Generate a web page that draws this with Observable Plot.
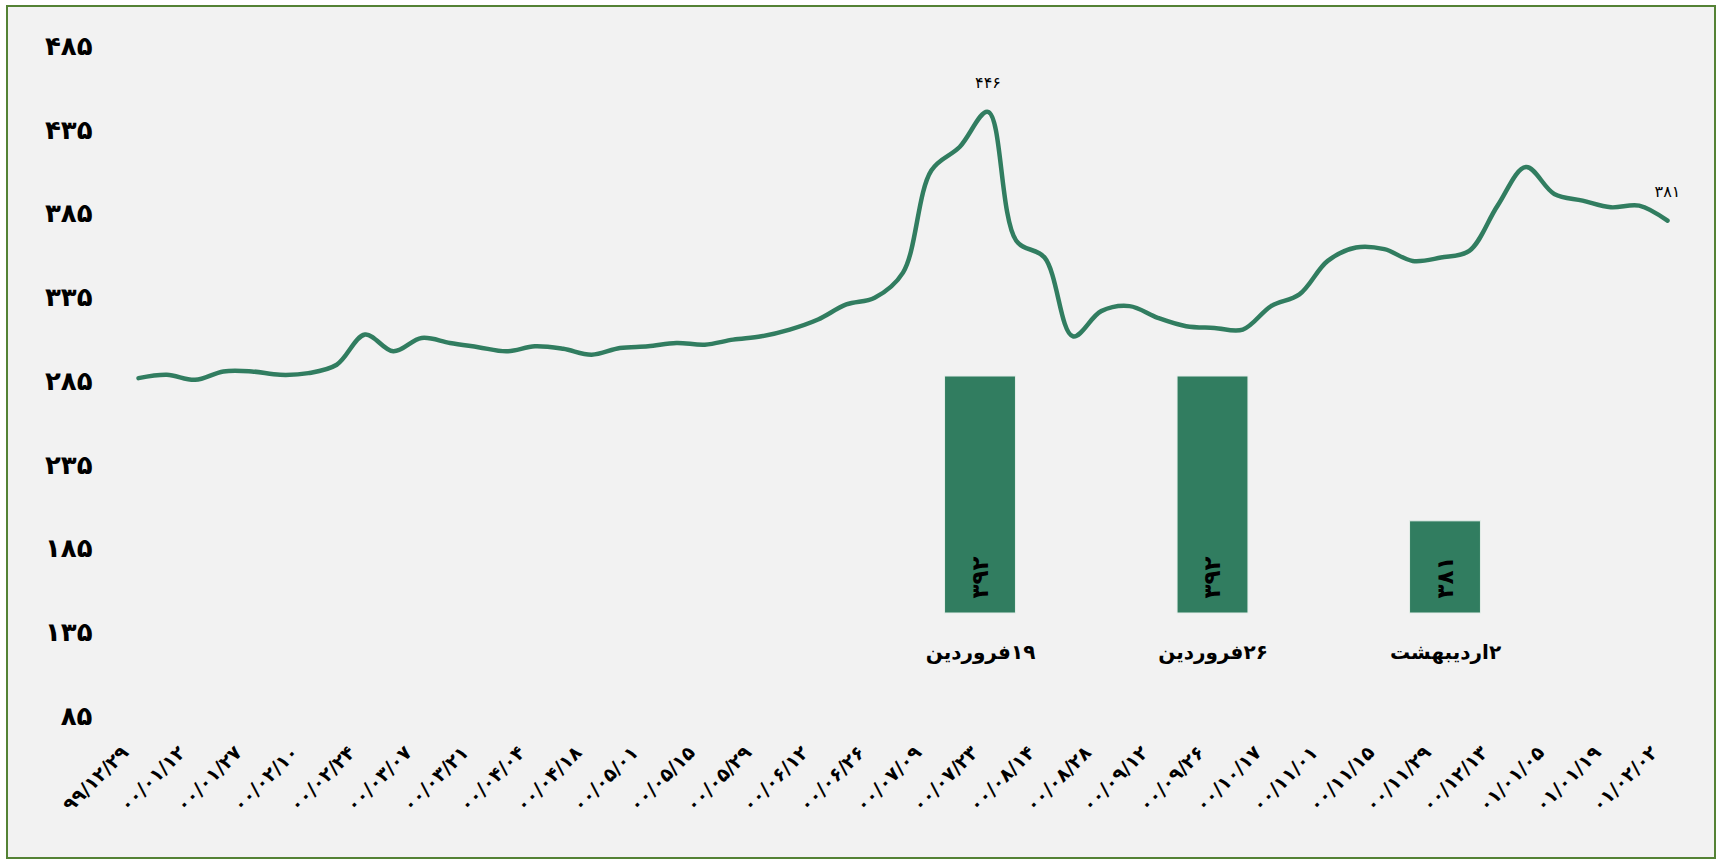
<!DOCTYPE html>
<html><head><meta charset="utf-8">
<script src="https://cdn.jsdelivr.net/npm/d3@7"></script>
<script src="https://cdn.jsdelivr.net/npm/@observablehq/plot@0.6"></script>
<style>
html,body{margin:0;padding:0;background:#fff;}
#frame{position:absolute;left:6px;top:5px;width:1710px;height:854px;box-sizing:border-box;border:2px solid #548235;background:#f2f2f2;}
#chart,#bars{position:absolute;left:0;top:0;}
</style></head><body>
<div id="frame"></div><div id="chart"></div><div id="bars"></div>
<script>
// x tick labels (every second weekly point)
const xLabels = ["۹۹/۱۲/۲۹","۰۰/۰۱/۱۲","۰۰/۰۱/۲۷","۰۰/۰۲/۱۰","۰۰/۰۲/۲۴","۰۰/۰۳/۰۷","۰۰/۰۳/۲۱","۰۰/۰۴/۰۴","۰۰/۰۴/۱۸","۰۰/۰۵/۰۱","۰۰/۰۵/۱۵","۰۰/۰۵/۲۹","۰۰/۰۶/۱۲","۰۰/۰۶/۲۶","۰۰/۰۷/۰۹","۰۰/۰۷/۲۳","۰۰/۰۸/۱۴","۰۰/۰۸/۲۸","۰۰/۰۹/۱۲","۰۰/۰۹/۲۶","۰۰/۱۰/۱۷","۰۰/۱۱/۰۱","۰۰/۱۱/۱۵","۰۰/۱۱/۲۹","۰۰/۱۲/۱۳","۰۱/۰۱/۰۵","۰۱/۰۱/۱۹","۰۱/۰۲/۰۲"];
// line values
const prices = [287,289,286,291,291,289,290,295,313,303,311,308,305.5,303,306,304.5,301,305,306,308,307,310,312,316,322,331,335,350,411,425,446,369,359,312,327,330,323,318,317,316,330,337,357,365,364,357,359,363,390,413,397,393,389,390,381];
const labelIdx = [30, 54];
const yTicks = [85,135,185,235,285,335,385,435,485];
// bar series (secondary axis)
const barCats = ["۱۹فروردین","۲۶فروردین","۲اردیبهشت"];
const barVals = [392,392,381];
const barBase = 374;

const green = "#317d60";
const fa = d => String(d).replace(/\d/g, c => "۰۱۲۳۴۵۶۷۸۹"[+c]);
const font = "DejaVu Sans, sans-serif";

const data = prices.map((v, i) => ({i, v}));
const main = Plot.plot({
  width: 1716, height: 859,
  marginTop: 46, marginBottom: 143, marginLeft: 138, marginRight: 49,
  style: {background: "transparent", fontFamily: font, color: "#000", overflow: "visible"},
  x: {type: "point", domain: d3.range(prices.length), padding: 0, round: false},
  y: {domain: [85, 485]},
  marks: [
    Plot.axisY({ticks: yTicks, tickSize: 0, tickPadding: 46, tickFormat: fa, fontSize: 26, fontWeight: "bold", label: null}),
    Plot.axisX({ticks: d3.range(0, prices.length, 2), tickFormat: i => xLabels[i / 2], tickRotate: -45, tickSize: 0, tickPadding: 33, dx: -13, fontSize: 19, fontWeight: "bold", label: null, style: {letterSpacing: "5px"}}),
    Plot.line(data, {x: "i", y: "v", curve: "catmull-rom", stroke: green, strokeWidth: 4.5}),
    Plot.text(data.filter(d => labelIdx.includes(d.i)), {x: "i", y: "v", text: d => fa(d.v), dy: -29, fontSize: 16, fill: "#000"})
  ]
});
document.getElementById("chart").append(main);

const barData = barCats.map((c, k) => ({c, v: barVals[k]}));
const bars = Plot.plot({
  width: 1716, height: 859, margin: 0,
  style: {background: "transparent", fontFamily: font, color: "#000", overflow: "visible"},
  x: {type: "band", domain: barCats, range: [863.75, 1561.25], paddingInner: 0.695, paddingOuter: 0.3475, round: false, axis: null},
  y: {domain: [barBase, 392], range: [613, 376], axis: null},
  marks: [
    Plot.barY(barData, {x: "c", y1: barBase, y2: "v", fill: green, stroke: "#e4eee9", strokeWidth: 1}),
    Plot.text(barData, {x: "c", y: barBase, text: d => fa(d.v), rotate: -90, textAnchor: "start", dy: -15, fontSize: 23, fontWeight: "bold", fill: "#000"}),
    Plot.text(barData, {x: "c", y: barBase, text: d => "\u200F" + d.c, dy: 39, fontSize: 20, fontWeight: "bold", fill: "#000"})
  ]
});
document.getElementById("bars").append(bars);
</script>
</body></html>
